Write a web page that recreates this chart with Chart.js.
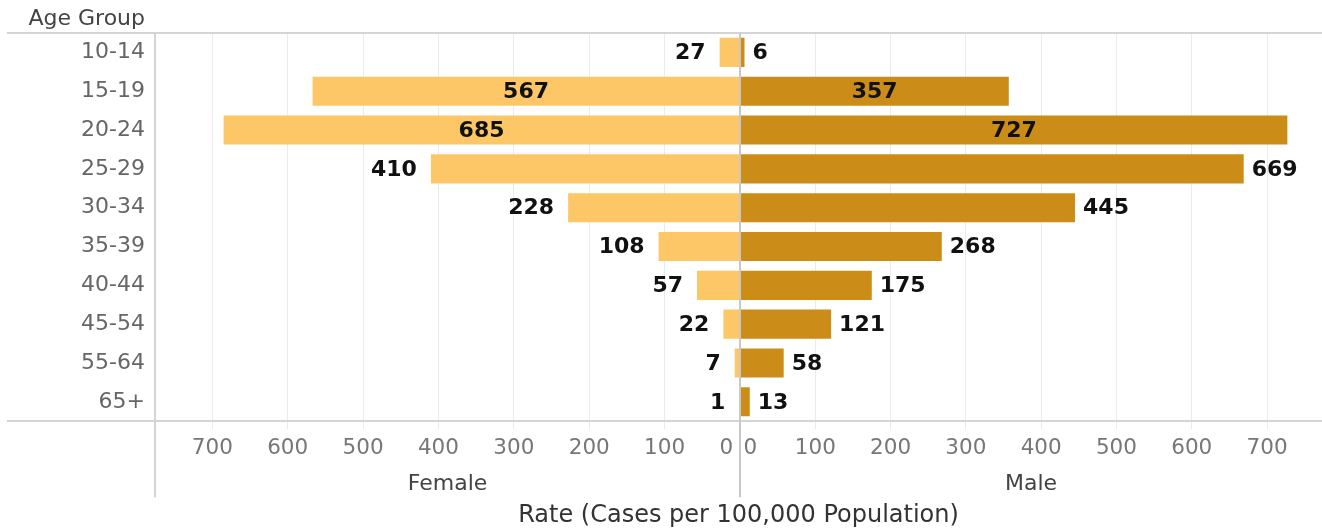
<!DOCTYPE html>
<html>
<head>
<meta charset="utf-8">
<title>Rate by Age Group</title>
<script src="https://cdn.jsdelivr.net/npm/chart.js@4.4.1/dist/chart.umd.min.js"></script>
<style>
    body { margin: 0; background: #fff; }
    #grafico { display: block; }
</style>
</head>
<body>
<canvas id="grafico" width="1322" height="531"></canvas>
<script>
const age_groups = ['10-14', '15-19', '20-24', '25-29', '30-34', '35-39', '40-44', '45-54', '55-64', '65+'];
const female_rates = [27, 567, 685, 410, 228, 108, 57, 22, 7, 1];
const male_rates = [6, 357, 727, 669, 445, 268, 175, 121, 58, 13];
const rate_ticks = [0, 100, 200, 300, 400, 500, 600, 700];

const COLOR_FEMALE = '#fdc767';
const COLOR_MALE = '#cc8c18';
const COLOR_FRAME = '#d4d4d4';

Chart.defaults.font.family = '"DejaVu Sans", Verdana, sans-serif';

// lineas del marco y titulo "Age Group"
const marcoPlugin = {
    id: 'marco',
    afterDatasetsDraw(chart) {
        const ctx = chart.ctx;
        const area = chart.chartArea;
        const y = chart.scales.y;
        const xF = chart.scales.xF;
        const cero = Math.round(xF.getPixelForValue(0));
        const fondo = xF.bottom;

        ctx.save();
        ctx.strokeStyle = COLOR_FRAME;
        ctx.lineWidth = 2;
        ctx.beginPath();
        ctx.moveTo(y.left, Math.round(area.top));
        ctx.lineTo(area.right, Math.round(area.top));
        ctx.moveTo(y.left, Math.round(area.bottom));
        ctx.lineTo(area.right, Math.round(area.bottom));
        ctx.moveTo(Math.round(area.left), area.top);
        ctx.lineTo(Math.round(area.left), fondo);
        ctx.stroke();

        ctx.strokeStyle = '#c8c8c8';
        ctx.beginPath();
        ctx.moveTo(cero, area.top);
        ctx.lineTo(cero, fondo);
        ctx.stroke();

        ctx.fillStyle = '#444';
        ctx.font = '22px "DejaVu Sans"';
        ctx.textAlign = 'right';
        ctx.textBaseline = 'middle';
        ctx.fillText('Age Group', y.right - 10, area.top / 2 + 3);
        ctx.restore();
    }
};

// valores sobre las barras
const etiquetasPlugin = {
    id: 'etiquetas',
    afterDatasetsDraw(chart) {
        const ctx = chart.ctx;
        ctx.save();
        ctx.font = 'bold 22px "DejaVu Sans"';
        ctx.fillStyle = '#111';
        ctx.textBaseline = 'middle';
        chart.data.datasets.forEach((ds, d) => {
            const meta = chart.getDatasetMeta(d);
            meta.data.forEach((bar, i) => {
                const valor = String(ds.data[i]);
                if (female_rates[i] > 500) {
                    ctx.textAlign = 'center';
                    ctx.fillText(valor, (bar.x + bar.base) / 2, bar.y + 1);
                } else if (d === 0) {
                    ctx.textAlign = 'right';
                    ctx.fillText(valor, bar.x - 14, bar.y + 1);
                } else {
                    ctx.textAlign = 'left';
                    ctx.fillText(valor, bar.x + 8, bar.y + 1);
                }
            });
        });
        ctx.restore();
    }
};

function ejeX(reverso, maximo, peso, titulo, etiquetaCero) {
    return {
        type: 'linear',
        position: 'bottom',
        stack: 'sexo',
        stackWeight: peso,
        reverse: reverso,
        min: 0,
        max: maximo,
        afterBuildTicks: s => { s.ticks = rate_ticks.map(v => ({ value: v })); },
        afterFit: s => { s.height = 76; },
        ticks: {
            color: '#777',
            font: { size: 21.5 },
            padding: 6,
            maxRotation: 0,
            autoSkip: false,
            callback: v => v === 0 ? etiquetaCero : String(v)
        },
        grid: {
            color: c => c.tick && c.tick.value === 0 ? '#c8c8c8' : '#ebebeb',
            tickLength: 8
        },
        border: { display: false },
        title: {
            display: true,
            text: titulo,
            color: '#444',
            font: { size: 22 },
            padding: { top: 4, bottom: 0 }
        }
    };
}

new Chart(document.getElementById('grafico'), {
    type: 'bar',
    data: {
        labels: age_groups,
        datasets: [{
            label: 'Female',
            data: female_rates,
            xAxisID: 'xF',
            backgroundColor: COLOR_FEMALE,
            grouped: false,
            categoryPercentage: 1,
            barPercentage: 0.75
        }, {
            label: 'Male',
            data: male_rates,
            xAxisID: 'xM',
            backgroundColor: COLOR_MALE,
            grouped: false,
            categoryPercentage: 1,
            barPercentage: 0.75
        }]
    },
    options: {
        indexAxis: 'y',
        responsive: false,
        animation: false,
        layout: { padding: { top: 33, left: 7, right: 0, bottom: 0 } },
        plugins: {
            legend: { display: false },
            tooltip: { enabled: false },
            title: {
                display: true,
                text: 'Rate (Cases per 100,000 Population)',
                position: 'bottom',
                fullSize: false,
                color: '#333',
                font: { size: 24, weight: 'normal' },
                padding: { top: 4, bottom: 1 }
            }
        },
        scales: {
            y: {
                type: 'category',
                grid: { display: false, drawTicks: false },
                border: { display: false },
                ticks: { color: '#666', font: { size: 22 }, padding: 10 },
                afterFit: s => { s.width = 148; }
            },
            xF: ejeX(true, 776, 585, 'Female', '0    '),
            xM: ejeX(false, 773, 582, 'Male', '   0')
        }
    },
    plugins: [marcoPlugin, etiquetasPlugin]
});
</script>
</body>
</html>
